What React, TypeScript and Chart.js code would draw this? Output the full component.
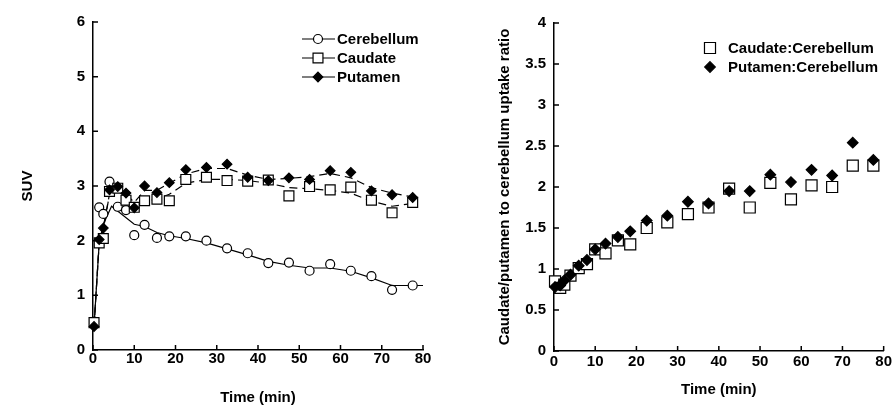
import React, { useEffect, useRef } from "react";
import { Chart, registerables } from "chart.js";

Chart.register(...registerables);

const FONT = '"Liberation Sans", Arial, Helvetica, sans-serif';

// ---- Data ----
const frameTimes = [0.25, 1.5, 2.5, 4, 6, 8, 10, 12.5, 15.5, 18.5, 22.5, 27.5, 32.5, 37.5, 42.5, 47.5, 52.5, 57.5, 62.5, 67.5, 72.5, 77.5];

const cerebellumSUV = [0.52, 2.61, 2.49, 3.08, 2.62, 2.56, 2.1, 2.29, 2.05, 2.08, 2.08, 2.0, 1.86, 1.77, 1.59, 1.6, 1.45, 1.57, 1.45, 1.35, 1.1, 1.18];
const caudateSUV = [0.5, 1.96, 2.04, 2.9, 2.96, 2.74, 2.61, 2.73, 2.76, 2.73, 3.12, 3.16, 3.1, 3.09, 3.11, 2.82, 2.99, 2.93, 2.98, 2.74, 2.51, 2.7];
const putamenSUV = [0.43, 2.02, 2.23, 2.93, 2.99, 2.87, 2.6, 3.0, 2.88, 3.06, 3.3, 3.34, 3.4, 3.16, 3.1, 3.15, 3.12, 3.28, 3.25, 2.91, 2.84, 2.79];

const cerebellumFitTimes = [0.25, 1.5, 2.5, 4.5, 10, 12.5, 15.5, 18.5, 22.5, 27.5, 32.5, 37.5, 42.5, 47.5, 52.5, 57.5, 62.5, 67.5, 72.5, 77.5, 80];
const cerebellumFit = [0.45, 1.95, 2.3, 2.63, 2.3, 2.26, 2.15, 2.09, 2.04, 1.96, 1.85, 1.74, 1.62, 1.55, 1.5, 1.5, 1.44, 1.32, 1.18, 1.18, 1.18];
const caudateFit = [0.45, 1.95, 2.2, 2.85, 2.92, 2.78, 2.65, 2.72, 2.76, 2.85, 3.05, 3.12, 3.12, 3.1, 3.05, 2.97, 2.95, 2.92, 2.87, 2.72, 2.63, 2.68];
const putamenFit = [0.4, 2.0, 2.25, 2.85, 2.95, 2.85, 2.7, 2.92, 2.92, 3.05, 3.22, 3.32, 3.32, 3.2, 3.12, 3.14, 3.17, 3.23, 3.15, 2.97, 2.87, 2.8];

const caudateRatio = [0.85, 0.77, 0.81, 0.92, 1.01, 1.06, 1.24, 1.19, 1.35, 1.3, 1.5, 1.57, 1.67, 1.75, 1.98, 1.75, 2.05, 1.85, 2.02, 2.0, 2.26, 2.26];
const putamenRatio = [0.78, 0.8, 0.86, 0.93, 1.04, 1.11, 1.24, 1.31, 1.39, 1.46, 1.59, 1.65, 1.82, 1.8, 1.95, 1.95, 2.15, 2.06, 2.21, 2.14, 2.54, 2.33];

const timeTicks = [0, 10, 20, 30, 40, 50, 60, 70, 80];
const suvTicks = [0, 1, 2, 3, 4, 5, 6];
const ratioTicks = [0, 0.5, 1, 1.5, 2, 2.5, 3, 3.5, 4];

const toXY = (xs: number[], ys: number[]) => xs.map((x, i) => ({ x, y: ys[i] }));

function drawMarker(ctx: CanvasRenderingContext2D, style: string, x: number, y: number, r: number, fill: string) {
  ctx.save();
  ctx.beginPath();
  if (style === "circle") {
    ctx.arc(x, y, r, 0, Math.PI * 2);
  } else if (style === "rect") {
    const s = Math.SQRT1_2 * r;
    ctx.rect(x - s, y - s, 2 * s, 2 * s);
  } else {
    ctx.moveTo(x, y - r);
    ctx.lineTo(x + r, y);
    ctx.lineTo(x, y + r);
    ctx.lineTo(x - r, y);
    ctx.closePath();
  }
  ctx.fillStyle = fill;
  ctx.fill();
  ctx.strokeStyle = "#000";
  ctx.lineWidth = 1.2;
  ctx.stroke();
  ctx.restore();
}

const inwardTicks = {
  id: "inwardTicks",
  afterDraw(chart: any) {
    const ctx = chart.ctx;
    const { left, bottom } = chart.chartArea;
    const xs = chart.scales.x;
    const ys = chart.scales.y;
    ctx.save();
    ctx.strokeStyle = "#000";
    ctx.lineWidth = 1.5;
    ctx.beginPath();
    xs.ticks.forEach((t: any) => {
      const px = xs.getPixelForValue(t.value);
      ctx.moveTo(px, bottom);
      ctx.lineTo(px, bottom - 5);
    });
    ys.ticks.forEach((t: any) => {
      const py = ys.getPixelForValue(t.value);
      ctx.moveTo(left, py);
      ctx.lineTo(left + 5, py);
    });
    ctx.stroke();
    ctx.restore();
  },
};

const customLegend = {
  id: "customLegend",
  afterDraw(chart: any, _args: any, opts: any) {
    if (!opts || !opts.items) return;
    const ctx = chart.ctx;
    ctx.save();
    ctx.font = `bold 15px ${FONT}`;
    ctx.textBaseline = "middle";
    ctx.fillStyle = "#000";
    opts.items.forEach((item: any, i: number) => {
      const ds = chart.data.datasets[item.dataset];
      const y = opts.y + i * opts.rowGap;
      if (opts.line) {
        ctx.beginPath();
        ctx.strokeStyle = "#000";
        ctx.lineWidth = 1.2;
        ctx.moveTo(opts.lineFrom, y);
        ctx.lineTo(opts.lineTo, y);
        ctx.stroke();
      }
      drawMarker(ctx, ds.pointStyle, opts.markerX, y, ds.pointRadius, ds.pointBackgroundColor);
      ctx.fillStyle = "#000";
      ctx.fillText(ds.label, opts.textX, y + 1);
    });
    ctx.restore();
  },
};

const tickFont = { family: FONT, size: 15, weight: "bold" as const };

function scatterDs(label: string, xs: number[], ys: number[], style: string, r: number, fill: string, order: number) {
  return {
    label,
    data: toXY(xs, ys),
    showLine: false,
    pointStyle: style,
    pointRadius: r,
    pointHoverRadius: r,
    pointBackgroundColor: fill,
    pointBorderColor: "#000",
    pointBorderWidth: 1.2,
    clip: false as const,
    order,
  };
}

function lineDs(label: string, xs: number[], ys: number[], dash: number[], order: number) {
  return {
    label,
    data: toXY(xs, ys),
    showLine: true,
    pointRadius: 0,
    borderColor: "#000",
    borderWidth: 1.2,
    borderDash: dash,
    fill: false,
    clip: false as const,
    order,
  };
}

function makeOptions(
  yTicks: number[],
  yTitle: string,
  yTitlePad: number,
  xTitlePad: number,
  yWidth: number,
  xHeight: number,
  pad: { top: number; right: number },
  xTickPad: number,
  legend: any
) {
  return {
    responsive: false,
    animation: false as const,
    layout: { padding: { left: 0, top: pad.top, right: pad.right, bottom: 0 } },
    plugins: {
      legend: { display: false },
      tooltip: { enabled: false },
      customLegend: legend,
    },
    scales: {
      x: {
        type: "linear" as const,
        min: 0,
        max: 80,
        afterBuildTicks: (s: any) => {
          s.ticks = timeTicks.map((v) => ({ value: v }));
        },
        afterFit: (s: any) => {
          s.height = xHeight;
        },
        grid: { display: false, drawTicks: false },
        border: { display: true, color: "#000", width: 1.5 },
        ticks: { color: "#000", font: tickFont, padding: xTickPad, maxRotation: 0, autoSkip: false },
        title: { display: true, text: "Time (min)", color: "#000", font: tickFont, padding: { top: 0, bottom: xTitlePad } },
      },
      y: {
        type: "linear" as const,
        min: yTicks[0],
        max: yTicks[yTicks.length - 1],
        afterBuildTicks: (s: any) => {
          s.ticks = yTicks.map((v) => ({ value: v }));
        },
        afterFit: (s: any) => {
          s.width = yWidth;
        },
        grid: { display: false, drawTicks: false },
        border: { display: true, color: "#000", width: 1.5 },
        ticks: { color: "#000", font: tickFont, padding: 8, autoSkip: false, callback: (v: any) => String(v) },
        title: { display: true, text: yTitle, color: "#000", font: tickFont, padding: { top: yTitlePad, bottom: 0 } },
      },
    },
  };
}

function SUVChart() {
  const ref = useRef<HTMLCanvasElement | null>(null);
  useEffect(() => {
    if (!ref.current) return;
    const chart = new Chart(ref.current, {
      type: "scatter",
      data: {
        datasets: [
          scatterDs("Cerebellum", frameTimes, cerebellumSUV, "circle", 4.5, "#fff", 3),
          scatterDs("Caudate", frameTimes, caudateSUV, "rect", 7, "#fff", 2),
          scatterDs("Putamen", frameTimes, putamenSUV, "rectRot", 4.8, "#000", 1),
          lineDs("Cerebellum fit", cerebellumFitTimes, cerebellumFit, [], 6),
          lineDs("Caudate fit", frameTimes, caudateFit, [8, 5], 5),
          lineDs("Putamen fit", frameTimes, putamenFit, [8, 5], 4),
        ] as any,
      },
      options: makeOptions(suvTicks, "SUV", 19, 0, 93, 57, { top: 22, right: 24 }, 0, {
        items: [{ dataset: 0 }, { dataset: 1 }, { dataset: 2 }],
        y: 39,
        rowGap: 19,
        line: true,
        lineFrom: 302,
        lineTo: 335,
        markerX: 318,
        textX: 337,
      }) as any,
      plugins: [inwardTicks, customLegend],
    });
    return () => chart.destroy();
  }, []);
  return <canvas ref={ref} width={447} height={407} style={{ position: "absolute", left: 0, top: 0, width: 447, height: 407 }} />;
}

function RatioChart() {
  const ref = useRef<HTMLCanvasElement | null>(null);
  useEffect(() => {
    if (!ref.current) return;
    const chart = new Chart(ref.current, {
      type: "scatter",
      data: {
        datasets: [
          scatterDs("Caudate:Cerebellum", frameTimes, caudateRatio, "rect", 7.8, "#fff", 2),
          scatterDs("Putamen:Cerebellum", frameTimes, putamenRatio, "rectRot", 5.3, "#000", 1),
        ] as any,
      },
      options: makeOptions(ratioTicks, "Caudate/putamen to cerebellum uptake ratio", 49, 8, 107, 56, { top: 23, right: 10 }, 2, {
        items: [{ dataset: 0 }, { dataset: 1 }],
        y: 48,
        rowGap: 19,
        line: false,
        markerX: 263,
        textX: 281,
      }) as any,
      plugins: [inwardTicks, customLegend],
    });
    return () => chart.destroy();
  }, []);
  return <canvas ref={ref} width={447} height={407} style={{ position: "absolute", left: 447, top: 0, width: 447, height: 407 }} />;
}

export default function App() {
  return (
    <div style={{ position: "absolute", left: 0, top: 0, width: 894, height: 407, background: "#fff" }}>
      <SUVChart />
      <RatioChart />
    </div>
  );
}
